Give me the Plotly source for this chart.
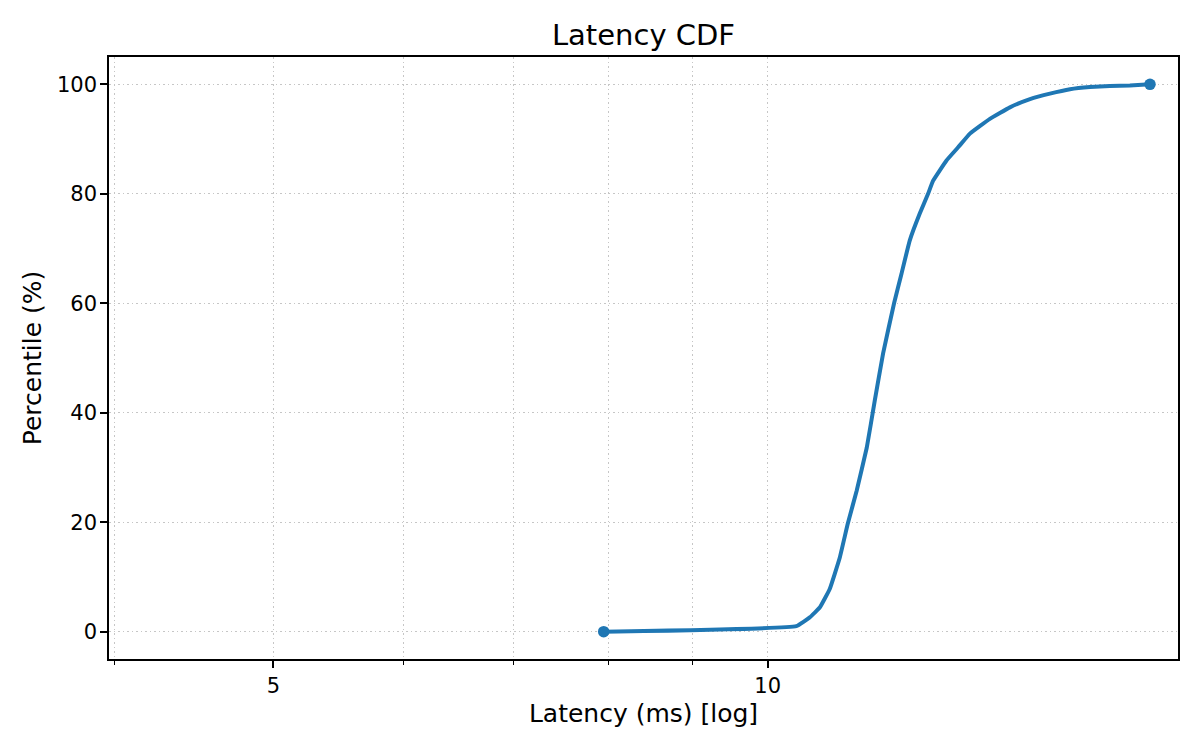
import plotly.graph_objects as go

# latency (ms) vs percentile
latency_ms = [7.945, 10.41, 10.607, 10.757, 10.909, 11.063, 11.188, 11.33, 11.49,
              11.62, 11.756, 11.939, 12.064, 12.205, 12.377, 12.522, 12.611,
              12.85, 13.061, 13.279, 13.656, 14.045, 14.446, 14.856, 15.28,
              15.713, 16.158, 16.618, 17.094]
percentile = [0.0, 1.0, 2.6, 4.4, 7.8, 13.5, 19.7, 25.8, 33.6,
              42.2, 50.8, 60.0, 65.4, 71.5, 76.4, 80.0, 82.4,
              86.1, 88.5, 91.0, 93.7, 95.8, 97.3, 98.3, 99.1,
              99.5, 99.7, 99.8, 100.0]

x_major = [5, 10]
x_minor = [4, 6, 7, 8, 9]
y_ticks = [0, 20, 40, 60, 80, 100]

blue = "#1f77b4"
grid = "#c6c6c6"
dots = "1.7px,2.8px"

# the page body has an 8px margin, so the figure is 8px smaller and shifted
W, H = 1192, 742

fig = go.Figure()
fig.add_trace(go.Scatter(
    x=latency_ms, y=percentile,
    mode="lines",
    line={"color": blue, "width": 4, "shape": "spline", "smoothing": 0.3},
    showlegend=False,
))
# dots at first and last sample
fig.add_trace(go.Scatter(
    x=[latency_ms[0], latency_ms[-1]],
    y=[percentile[0], percentile[-1]],
    mode="markers",
    marker={"color": blue, "size": 11.5},
    showlegend=False,
))

axis_common = dict(
    showline=True,
    linecolor="black",
    linewidth=1.6,
    mirror=True,
    ticks="outside",
    ticklen=7,
    tickwidth=1.6,
    tickcolor="black",
    showgrid=True,
    gridcolor=grid,
    griddash=dots,
    gridwidth=1.3,
    zeroline=False,
    tickfont={"size": 21, "color": "black"},
)

fig.update_layout(
    width=W,
    height=H,
    margin={"l": 101, "r": 22, "t": 49, "b": 91},
    plot_bgcolor="white",
    paper_bgcolor="white",
    font={"family": "DejaVu Sans", "color": "black"},
    title={
        "text": "Latency CDF",
        "x": 0.5,
        "xref": "paper",
        "y": 1 - 27 / H,
        "yanchor": "middle",
        "yref": "container",
        "xanchor": "center",
        "font": {"size": 29, "color": "black"},
    },
    xaxis=dict(
        axis_common,
        type="log",
        range=[0.5988, 1.2499],
        tickmode="array",
        tickvals=x_major,
        ticktext=[str(v) for v in x_major],
        title={"text": "Latency (ms) [log]", "font": {"size": 25}, "standoff": 7},
        minor={
            "tickmode": "array",
            "tickvals": x_minor,
            "ticks": "outside",
            "ticklen": 4,
            "tickwidth": 1.2,
            "tickcolor": "black",
            "showgrid": True,
            "gridcolor": grid,
            "griddash": dots,
            "gridwidth": 1.3,
        },
    ),
    yaxis=dict(
        axis_common,
        range=[-5, 105],
        tickmode="array",
        tickvals=y_ticks,
        ticklabelstandoff=-1,
        title={"text": "Percentile (%)", "font": {"size": 25}, "standoff": 8},
    ),
)

fig.write_html("out.html")
